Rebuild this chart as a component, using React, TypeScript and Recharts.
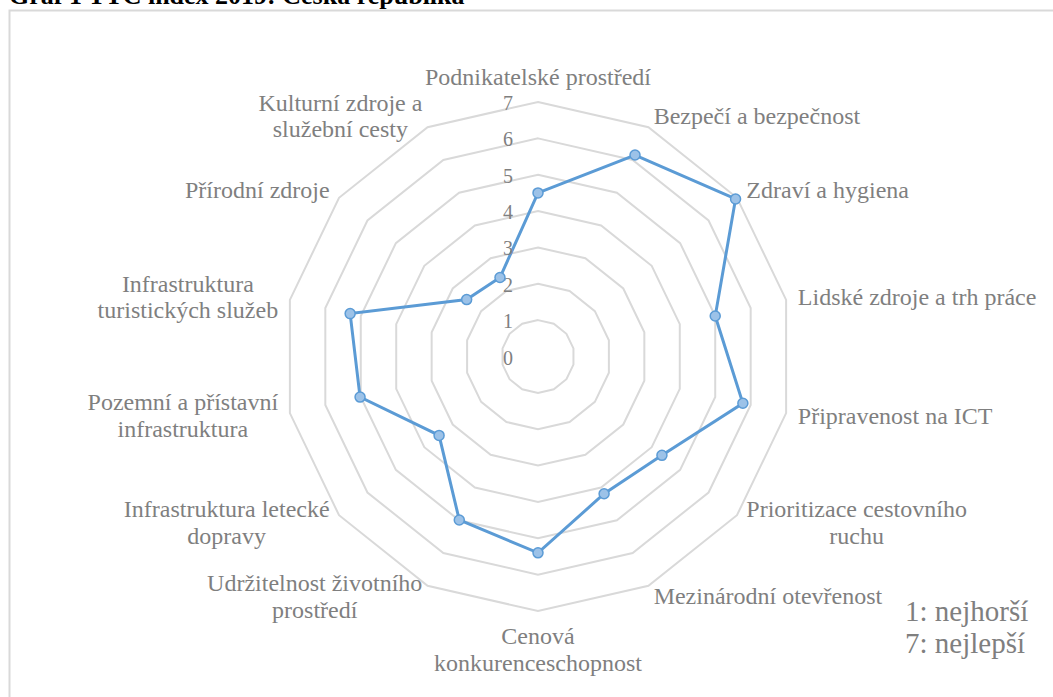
import React from 'react';
import { RadarChart, Radar, PolarGrid, PolarAngleAxis, PolarRadiusAxis } from 'recharts';

const categories = [
  'Podnikatelské prostředí',
  'Bezpečí a bezpečnost',
  'Zdraví a hygiena',
  'Lidské zdroje a trh práce',
  'Připravenost na ICT',
  'Prioritizace cestovního\nruchu',
  'Mezinárodní otevřenost',
  'Cenová\nkonkurenceschopnost',
  'Udržitelnost životního\nprostředí',
  'Infrastruktura letecké\ndopravy',
  'Pozemní a přístavní\ninfrastruktura',
  'Infrastruktura\nturistických služeb',
  'Přírodní zdroje',
  'Kulturní zdroje a\nslužební cesty',
];

const scores = [4.5, 6.15, 6.95, 5.0, 5.78, 4.36, 4.19, 5.4, 4.99, 3.48, 5.02, 5.3, 2.51, 2.41];

const radiusTicks = [0, 1, 2, 3, 4, 5, 6, 7];

const titleText = 'Graf 1 TTC index 2019: Česká republika';
const noteLines = ['1: nejhorší', '7: nejlepší'];

const data = categories.map((c, i) => ({ name: c, value: scores[i] }));

const W = 1053;
const H = 697;
const CX = 538;
const CY = 356.5;
const R = 254.5;
const FONT = '"Liberation Serif", "Times New Roman", serif';
const GRAY = '#7f7f7f';

const AngleTick = (props: any) => {
  const { x, y, payload } = props;
  const dx = x - CX;
  const dy = y - CY;
  const len = Math.sqrt(dx * dx + dy * dy) || 1;
  const ux = dx / len;
  const uy = dy / len;
  const px = x + ux * 4;
  const py = y + uy * 4;
  const BW = 400;
  const BH = 200;
  let fx: number;
  let justify: string;
  if (ux > 0.05) {
    fx = px;
    justify = 'flex-start';
  } else if (ux < -0.05) {
    fx = px - BW;
    justify = 'flex-end';
  } else {
    fx = px - BW / 2;
    justify = 'center';
  }
  let fy: number;
  let align: string;
  if (uy < -0.95) {
    fy = py - BH;
    align = 'flex-end';
  } else if (uy > 0.95) {
    fy = py;
    align = 'flex-start';
  } else {
    fy = py - BH / 2;
    align = 'center';
  }
  return (
    <foreignObject x={fx} y={fy} width={BW} height={BH} style={{ overflow: 'visible' }}>
      <div
        style={{
          width: BW,
          height: BH,
          display: 'flex',
          justifyContent: justify,
          alignItems: align,
        }}
      >
        <div
          style={{
            textAlign: 'center',
            whiteSpace: 'pre',
            fontFamily: FONT,
            fontSize: 24,
            lineHeight: '26.5px',
            color: GRAY,
          }}
        >
          {payload.value}
        </div>
      </div>
    </foreignObject>
  );
};

const RadiusTick = (props: any) => {
  const { x, y, payload } = props;
  return (
    <text
      x={x - 30}
      y={y + 1}
      textAnchor="middle"
      dominantBaseline="central"
      fontFamily={FONT}
      fontSize={20}
      fill={GRAY}
    >
      {payload.value}
    </text>
  );
};

export default function App() {
  return (
    <div
      style={{
        position: 'absolute',
        left: 0,
        top: 0,
        width: W,
        height: H,
        overflow: 'hidden',
        background: '#ffffff',
      }}
    >
      <svg width={W} height={H} style={{ position: 'absolute', left: 0, top: 0 }}>
        <text x={9} y={4} fontFamily={FONT} fontWeight="bold" fontSize={26} fill="#000">
          {titleText}
        </text>
        <rect x={9.5} y={10.5} width={1200} height={900} fill="none" stroke="#d9d9d9" strokeWidth={2} />
        {noteLines.map((t, i) => (
          <text key={t} x={905} y={621 + i * 32} fontFamily={FONT} fontSize={29} fill={GRAY}>
            {t}
          </text>
        ))}
      </svg>
      <div style={{ position: 'absolute', left: 0, top: 0 }}>
        <RadarChart width={W} height={H} data={data} cx={CX} cy={CY} outerRadius={R} margin={{ top: 0, right: 0, bottom: 0, left: 0 }}>
          <PolarGrid gridType="polygon" radialLines={false} stroke="#d9d9d9" strokeWidth={2} />
          <PolarAngleAxis dataKey="name" tick={<AngleTick />} tickLine={false} axisLine={false} />
          <PolarRadiusAxis
            angle={90}
            domain={[0, 7]}
            ticks={radiusTicks}
            tickCount={8}
            axisLine={false}
            tickLine={false}
            tick={<RadiusTick />}
          />
          <Radar
            dataKey="value"
            stroke="#5b9bd5"
            strokeWidth={3}
            fill="none"
            fillOpacity={0}
            dot={{ r: 5, fill: '#9cc2e8', stroke: '#5b9bd5', strokeWidth: 1.5, fillOpacity: 1 }}
            isAnimationActive={false}
          />
        </RadarChart>
      </div>
    </div>
  );
}
